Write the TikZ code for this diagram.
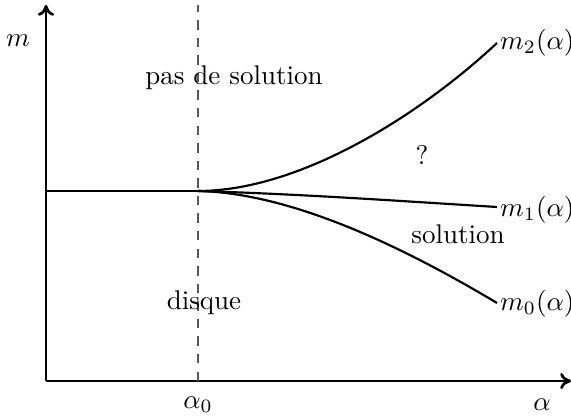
\documentclass[tikz,border=0pt]{standalone}
\usetikzlibrary{arrows.meta}
\begin{document}
\begin{tikzpicture}[x=0.37pt,y=-0.37pt,
  axis/.style={line width=1pt,-{To[length=4pt,width=6pt]}},
  curve/.style={line width=0.8pt},
  lbl/.style={inner sep=1pt}]
\useasboundingbox (0,0) rectangle (571,417);
\coordinate (O) at (46,381);
\coordinate (ytop) at (46,5);
\coordinate (xend) at (571,381);
\coordinate (A) at (198,191);
\coordinate (L) at (46,191);
\coordinate (dtop) at (198,5);
\coordinate (dbot) at (198,381);
\coordinate (E2) at (497,43);
\coordinate (E1) at (497,207);
\coordinate (E0) at (497,303);
\draw[axis] (O) -- (ytop);
\draw[axis] (O) -- (xend);
\draw[line width=0.4pt,gray!70!black,dash pattern=on 3.5pt off 3pt] (dbot) -- (dtop);
\draw[curve] (L) -- (A);
\draw[curve] (A) .. controls (300,191) and (420,115) .. (E2);
\draw[curve] (A) .. controls (300,194) and (400,201) .. (E1);
\draw[curve] (A) .. controls (290,193) and (400,245) .. (E0);
\node[lbl,anchor=west] (l2) at (E2) {$m_2(\alpha)$};
\node[lbl,anchor=west] (l1) at (497,210) {$m_1(\alpha)$};
\node[lbl,anchor=west] (l0) at (497,304) {$m_0(\alpha)$};
\node (m) at (18,41) {$m$};
\node (pds) at (234,78) {pas de solution};
\node (q) at (422,155) {?};
\node (sol) at (458,234) {solution};
\node (dis) at (204,303) {disque};
\node (a0) at (198,405) {$\alpha_0$};
\node (a) at (542,405) {$\alpha$};
\end{tikzpicture}
\end{document}
